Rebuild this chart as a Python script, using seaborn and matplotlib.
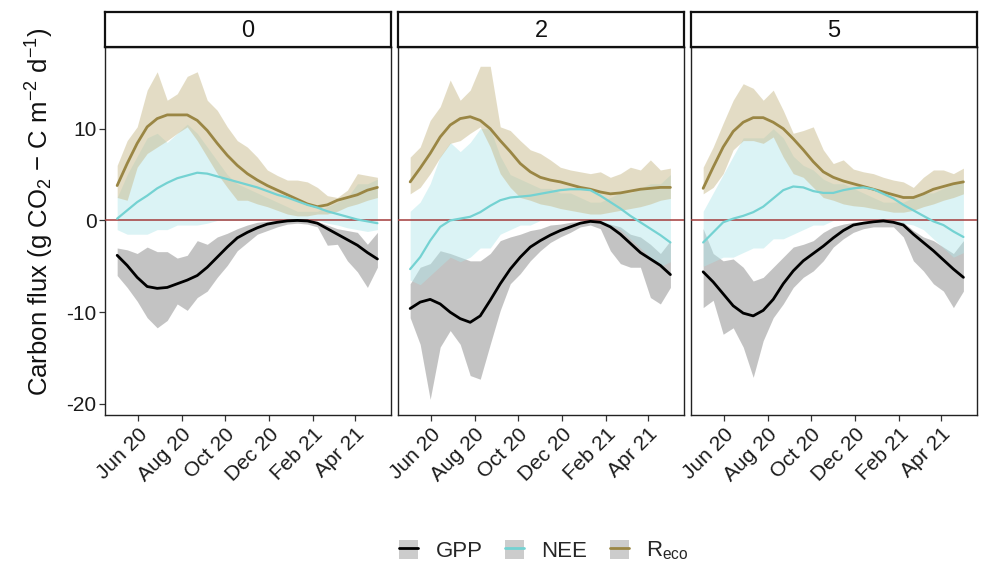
import numpy as np
import pandas as pd
import matplotlib
matplotlib.use("Agg")
import matplotlib.pyplot as plt
import matplotlib.dates as mdates
from matplotlib.lines import Line2D
from matplotlib.patches import Patch
import seaborn as sns

# ---------------- data (14-day steps) -------------
panels = ["0", "2", "5"]
start_date = "2020-05-03"
n_steps = 27
series_names = ["GPP", "NEE", "Reco"]

# panel "0"
gpp_smooth_0 = [-3.8, -4.9, -6.2, -7.2, -7.4, -7.3, -6.9, -6.5, -6.0, -5.1, -4.0, -2.9, -1.9, -1.3,
                -0.8, -0.4, -0.2, -0.05, 0.0, -0.05, -0.3, -0.9, -1.5, -2.1, -2.7, -3.5, -4.2]
gpp_top_0 = [-3.0, -3.2, -3.6, -2.9, -3.4, -3.4, -4.1, -3.8, -2.2, -2.6, -1.8, -1.4, -0.9, -0.5,
             -0.2, -0.1, 0.0, 0.0, 0.0, 0.0, -0.1, -0.5, -0.9, -1.1, -1.3, -2.6, -1.3]
gpp_bot_0 = [-6.0, -7.3, -8.8, -10.6, -11.7, -10.9, -9.1, -9.8, -8.4, -7.7, -6.2, -4.9, -3.3, -2.4,
             -1.5, -1.1, -0.7, -0.4, -0.3, -0.4, -0.7, -2.7, -2.6, -4.4, -5.6, -7.3, -5.1]
nee_smooth_0 = [0.2, 1.1, 2.0, 2.7, 3.5, 4.1, 4.6, 4.9, 5.2, 5.1, 4.8, 4.5, 4.2, 3.9,
                3.6, 3.2, 2.8, 2.5, 2.1, 1.7, 1.4, 1.0, 0.7, 0.4, 0.1, -0.1, -0.3]
nee_top_0 = [2.5, 5.0, 7.0, 9.0, 9.5, 8.5, 9.5, 10.5, 9.5, 8.0, 6.5, 5.0, 4.0, 3.5,
             3.0, 2.5, 2.0, 1.5, 1.0, 1.0, 1.0, 1.5, 2.0, 2.5, 4.0, 4.0, 4.5]
nee_bot_0 = [-1.0, -1.5, -1.5, -1.5, -1.0, -1.0, -0.5, -0.5, -0.5, -0.3, 0.0, 0.0, 0.0, 0.0,
             0.0, 0.0, 0.0, 0.0, 0.0, 0.0, 0.0, -0.3, -0.5, -0.8, -1.0, -1.2, -1.0]
reco_smooth_0 = [3.8, 6.2, 8.4, 10.2, 11.1, 11.5, 11.5, 11.5, 10.9, 9.8, 8.4, 7.1, 6.0, 5.1,
                 4.4, 3.8, 3.3, 2.8, 2.3, 1.8, 1.5, 1.7, 2.2, 2.5, 2.8, 3.3, 3.6]
reco_top_0 = [6.0, 8.7, 10.2, 14.2, 16.2, 13.1, 13.8, 15.7, 16.2, 13.1, 12.0, 10.2, 8.7, 8.0,
              6.9, 5.5, 4.9, 4.4, 4.4, 4.2, 3.6, 2.7, 2.5, 3.3, 5.1, 4.9, 4.7]
reco_bot_0 = [2.5, 2.2, 5.8, 7.3, 8.0, 8.7, 9.5, 10.2, 8.7, 6.9, 5.1, 3.6, 2.2, 2.2,
              1.8, 1.5, 1.1, 0.7, 0.5, 0.5, 0.7, 0.7, 1.0, 1.5, 1.8, 2.2, 2.5]

# panel "2"
gpp_smooth_2 = [-9.6, -8.9, -8.6, -9.1, -10.0, -10.7, -11.1, -10.4, -8.7, -6.9, -5.3, -4.0, -2.9, -2.2,
                -1.6, -1.1, -0.7, -0.3, -0.1, -0.2, -0.7, -1.5, -2.5, -3.5, -4.2, -4.9, -5.9]
gpp_top_2 = [-6.9, -5.1, -4.7, -3.3, -3.6, -4.0, -4.4, -4.4, -3.6, -2.2, -1.8, -1.5, -1.1, -0.9,
             -0.5, -0.4, -0.2, -0.1, 0.0, 0.0, -0.4, -0.7, -1.5, -1.8, -2.6, -3.6, -2.2]
gpp_bot_2 = [-10.6, -13.5, -19.5, -13.8, -12.0, -13.5, -16.9, -17.3, -13.5, -9.8, -6.9, -5.8, -4.4, -3.3,
             -2.4, -1.8, -1.3, -0.7, -0.5, -0.9, -3.3, -4.7, -5.1, -5.1, -8.4, -9.1, -7.3]
nee_smooth_2 = [-5.3, -4.0, -2.2, -0.7, 0.0, 0.2, 0.4, 0.9, 1.6, 2.2, 2.5, 2.6, 2.7, 2.9,
                3.1, 3.3, 3.4, 3.4, 3.3, 2.7, 2.0, 1.3, 0.5, -0.2, -0.9, -1.6, -2.4]
nee_top_2 = [1.0, 2.0, 4.0, 7.0, 8.5, 7.5, 8.5, 10.0, 10.0, 7.0, 5.0, 4.5, 4.0, 3.5,
             3.5, 3.0, 3.0, 2.5, 2.0, 2.0, 2.5, 3.0, 3.0, 3.5, 4.0, 4.0, 5.0]
nee_bot_2 = [-6.5, -7.0, -6.0, -5.0, -4.0, -4.5, -4.0, -3.0, -3.0, -1.5, -1.0, -0.5, -0.5, 0.0,
             0.0, 0.0, 0.0, 0.0, 0.0, 0.0, -0.5, -1.0, -2.0, -3.0, -4.0, -5.0, -4.5]
reco_smooth_2 = [4.2, 5.7, 7.3, 9.1, 10.4, 11.1, 11.3, 10.9, 10.0, 8.7, 7.5, 6.2, 5.3, 4.7,
                 4.4, 4.2, 3.9, 3.6, 3.4, 3.1, 2.9, 3.0, 3.2, 3.4, 3.5, 3.6, 3.6]
reco_top_2 = [6.9, 8.0, 10.9, 12.4, 15.3, 13.1, 14.2, 16.8, 16.8, 10.2, 9.8, 8.7, 7.7, 7.3,
              6.6, 5.8, 5.5, 5.3, 5.1, 5.3, 4.7, 5.1, 5.8, 5.5, 6.6, 5.5, 5.7]
reco_bot_2 = [2.9, 3.6, 5.1, 6.9, 8.4, 8.7, 9.5, 10.2, 8.0, 5.1, 3.6, 2.5, 2.2, 1.8,
              1.6, 1.3, 1.1, 0.9, 0.7, 0.7, 0.9, 1.1, 1.3, 1.5, 1.8, 2.2, 2.4]

# panel "5"
gpp_smooth_5 = [-5.6, -6.7, -8.0, -9.3, -10.1, -10.4, -9.8, -8.6, -6.9, -5.5, -4.4, -3.6, -2.8, -1.9,
                -1.1, -0.5, -0.3, -0.15, -0.05, -0.2, -0.5, -1.5, -2.4, -3.3, -4.3, -5.3, -6.2]
gpp_top_5 = [-0.9, -3.6, -4.4, -4.2, -5.1, -6.6, -6.2, -5.1, -4.0, -2.9, -2.6, -2.2, -1.3, -0.7,
             -0.4, -0.2, -0.1, 0.0, 0.0, 0.0, -0.2, -1.1, -1.8, -2.2, -2.9, -3.6, -2.2]
gpp_bot_5 = [-9.5, -8.7, -12.4, -11.7, -13.8, -17.1, -13.1, -10.6, -9.1, -7.3, -6.2, -5.5, -4.4, -2.9,
             -2.0, -1.3, -0.9, -0.7, -0.7, -0.7, -1.8, -4.4, -5.5, -6.9, -7.7, -9.5, -7.7]
nee_smooth_5 = [-2.4, -1.3, -0.2, 0.2, 0.5, 0.9, 1.5, 2.4, 3.3, 3.7, 3.6, 3.2, 3.0, 3.0,
                3.3, 3.5, 3.6, 3.4, 2.9, 2.4, 1.7, 1.1, 0.5, -0.1, -0.5, -1.2, -1.8]
nee_top_5 = [1.0, 3.0, 5.0, 7.0, 9.0, 9.0, 9.0, 10.0, 9.0, 7.0, 6.0, 5.5, 4.5, 4.0,
             4.0, 3.5, 3.0, 2.5, 2.0, 2.0, 2.0, 2.5, 3.0, 3.0, 3.5, 4.0, 4.5]
nee_bot_5 = [-5.0, -4.5, -4.0, -4.0, -3.5, -3.0, -3.0, -2.0, -2.0, -1.5, -1.0, -0.5, -0.5, 0.0,
             0.0, 0.0, 0.0, 0.0, 0.0, 0.0, -0.3, -0.5, -1.0, -2.0, -3.0, -4.0, -3.5]
reco_smooth_5 = [3.5, 5.8, 8.0, 9.7, 10.7, 11.2, 11.2, 10.7, 10.0, 8.9, 7.7, 6.4, 5.3, 4.7,
                 4.3, 4.0, 3.7, 3.4, 3.1, 2.8, 2.5, 2.5, 2.9, 3.4, 3.7, 4.0, 4.2]
reco_top_5 = [5.8, 8.0, 10.6, 13.1, 14.9, 14.4, 13.1, 14.2, 12.0, 9.5, 9.8, 10.2, 7.7, 6.2,
              6.6, 5.6, 5.3, 5.1, 4.7, 4.4, 4.2, 3.6, 4.7, 5.5, 5.5, 5.1, 5.7]
reco_bot_5 = [2.9, 3.6, 5.1, 7.7, 8.7, 8.7, 8.4, 9.1, 6.9, 5.1, 4.7, 3.6, 2.5, 2.2,
              1.8, 1.6, 1.5, 1.3, 1.1, 0.9, 0.9, 1.1, 1.5, 1.8, 2.2, 2.5, 2.9]

y_ticks = [10, 0, -10, -20]
x_tick_dates = ["2020-06-01", "2020-08-01", "2020-10-01", "2020-12-01", "2021-02-01", "2021-04-01"]

# ---------------- styling -------------
sns.set_theme(style="white")
plt.rcParams["font.family"] = ["Liberation Sans", "DejaVu Sans"]
plt.rcParams["mathtext.fontset"] = "custom"
plt.rcParams["mathtext.rm"] = "Liberation Sans"
plt.rcParams["mathtext.it"] = "Liberation Sans"
plt.rcParams["mathtext.default"] = "regular"

line_col = {"GPP": "#000000", "NEE": "#74d2d2", "Reco": "#9a8644"}
fill_col = {"GPP": ("#b5b5b5", 0.8), "NEE": ("#b0e6e9", 0.45), "Reco": ("#c9bb8c", 0.5)}

data = {
    "0": dict(GPP=(gpp_smooth_0, gpp_top_0, gpp_bot_0), NEE=(nee_smooth_0, nee_top_0, nee_bot_0),
              Reco=(reco_smooth_0, reco_top_0, reco_bot_0)),
    "2": dict(GPP=(gpp_smooth_2, gpp_top_2, gpp_bot_2), NEE=(nee_smooth_2, nee_top_2, nee_bot_2),
              Reco=(reco_smooth_2, reco_top_2, reco_bot_2)),
    "5": dict(GPP=(gpp_smooth_5, gpp_top_5, gpp_bot_5), NEE=(nee_smooth_5, nee_top_5, nee_bot_5),
              Reco=(reco_smooth_5, reco_top_5, reco_bot_5)),
}

dates = pd.date_range(start_date, periods=n_steps, freq="14D")

W, H = 982, 573
fig = plt.figure(figsize=(W / 100, H / 100), dpi=100)
fig.patch.set_facecolor("white")

panel_lefts = [105, 398, 691]
panel_w = 286
plot_top, plot_bot = 47, 415
strip_top = 12

xlim = (pd.Timestamp("2020-04-16"), pd.Timestamp("2021-05-21"))
ylim = (-21.2, 18.9)

for i, p in enumerate(panels):
    l = panel_lefts[i]
    ax = fig.add_axes([l / W, 1 - plot_bot / H, panel_w / W, (plot_bot - plot_top) / H])
    ax.set_facecolor("white")
    d = data[p]
    # daily spread envelopes
    for s in series_names:
        sm, top, bot = d[s]
        c, a = fill_col[s]
        ax.fill_between(dates, bot, top, color=c, alpha=a, linewidth=0)
    ax.axhline(0, color="#a33b3b", lw=1.1, zorder=3)
    # smooth curves via seaborn
    long = pd.DataFrame({
        "date": np.concatenate([dates] * 3),
        "value": np.concatenate([d[s][0] for s in series_names]),
        "series": np.repeat(series_names, n_steps),
    })
    sns.lineplot(data=long[long.series != "NEE"], x="date", y="value", hue="series",
                 palette=line_col, ax=ax, legend=False, linewidth=2.0, zorder=4)
    sns.lineplot(data=long[long.series == "NEE"], x="date", y="value", hue="series",
                 palette=line_col, ax=ax, legend=False, linewidth=1.6, zorder=4)
    ax.set_xlim(*xlim)
    ax.set_ylim(*ylim)
    ax.set_xlabel("")
    ax.set_ylabel("")
    ax.set_xticks(pd.to_datetime(x_tick_dates))
    ax.xaxis.set_major_formatter(mdates.DateFormatter("%b %y"))
    for lab in ax.get_xticklabels():
        lab.set_rotation(45)
        lab.set_ha("right")
        lab.set_rotation_mode("anchor")
        lab.set_fontsize(15)
        lab.set_color("#1a1a1a")
    ax.tick_params(axis="x", direction="out", length=4, width=0.9, color="#333333", pad=3,
                   bottom=True)
    if i == 0:
        ax.set_yticks(y_ticks)
        ax.set_yticklabels([str(v) for v in y_ticks], fontsize=15, color="#1a1a1a")
        ax.tick_params(axis="y", direction="out", length=4, width=0.9, color="#333333", pad=2,
                       left=True)
    else:
        ax.set_yticks([])
    for sp in ax.spines.values():
        sp.set_color("#222222")
        sp.set_linewidth(1.0)
    # strip
    sax = fig.add_axes([l / W, 1 - plot_top / H, panel_w / W, (plot_top - strip_top) / H])
    sax.set_facecolor("white")
    sax.set_xticks([])
    sax.set_yticks([])
    for sp in sax.spines.values():
        sp.set_color("#111111")
        sp.set_linewidth(1.6)
    sax.text(0.5, 0.47, p, ha="center", va="center", fontsize=17, color="#111111",
             transform=sax.transAxes)

fig.text(40 / W, 1 - 212 / H,
         r"Carbon flux (g CO$_{2}$ $-$ C m$^{-2}$ d$^{-1}$)",
         rotation=90, ha="center", va="center", fontsize=18.5, color="#111111")

handles = [(Patch(facecolor="#cccccc", edgecolor="none"), Line2D([], [], color=line_col[s], lw=2))
           for s in series_names]
labels = ["GPP", "NEE", r"R$_{eco}$"]
fig.legend(handles, labels, loc="center", bbox_to_anchor=(544 / W, 1 - 551 / H), ncol=3,
           frameon=False, fontsize=16, handlelength=0.85, handleheight=0.95,
           handletextpad=0.8, columnspacing=1.0)

fig.savefig("out.png", dpi=100, facecolor="white")
